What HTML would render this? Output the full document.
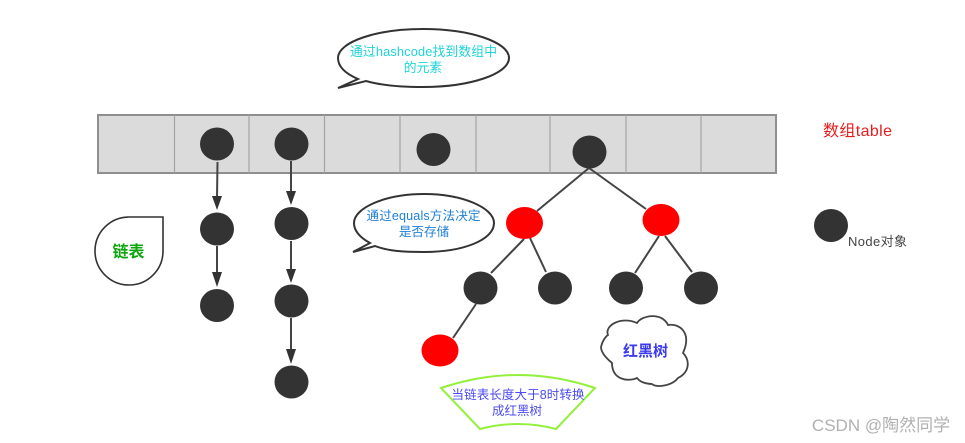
<!DOCTYPE html>
<html>
<head>
<meta charset="utf-8">
<style>
html,body{margin:0;padding:0;background:#fff;width:965px;height:443px;overflow:hidden}
svg{display:block}
text{font-family:"Liberation Sans","Noto Sans CJK SC",sans-serif;text-anchor:middle}
</style>
</head>
<body>
<svg width="965" height="443" viewBox="0 0 965 443" xmlns="http://www.w3.org/2000/svg">
<rect x="98" y="115" width="678" height="58" fill="#dbdbdb" stroke="#8f8f8f" stroke-width="2"/>
<g stroke="#a3a3a3" stroke-width="1.2">
<line x1="174.500" y1="115" x2="174.500" y2="173"/>
<line x1="249" y1="115" x2="249" y2="173"/>
<line x1="324.500" y1="115" x2="324.500" y2="173"/>
<line x1="400" y1="115" x2="400" y2="173"/>
<line x1="476" y1="115" x2="476" y2="173"/>
<line x1="550" y1="115" x2="550" y2="173"/>
<line x1="626" y1="115" x2="626" y2="173"/>
<line x1="701" y1="115" x2="701" y2="173"/>
</g>

<!-- connectors -->
<g stroke="#444" stroke-width="2" fill="none">
<line x1="217.500" y1="162" x2="217" y2="198"/>
<line x1="291" y1="161" x2="291" y2="192"/>
<line x1="217" y1="246" x2="217" y2="274"/>
<line x1="291" y1="241" x2="291" y2="271"/>
<line x1="291" y1="318" x2="291" y2="351"/>
<line x1="589" y1="168" x2="537" y2="211"/>
<line x1="589" y1="168" x2="646" y2="209"/>
<line x1="524" y1="239" x2="491" y2="273"/>
<line x1="530" y1="238" x2="546" y2="272"/>
<line x1="659" y1="236" x2="635" y2="273"/>
<line x1="665" y1="236" x2="692" y2="272"/>
<line x1="476" y1="304" x2="453" y2="338"/>
</g>
<g fill="#333">
<polygon points="212,196 222,196 217,210"/>
<polygon points="286,191 296,191 291,205"/>
<polygon points="212,272 222,272 217,287"/>
<polygon points="286,269 296,269 291,283"/>
<polygon points="286,349 296,349 291,364"/>
</g>

<!-- nodes -->
<g fill="#333">
<ellipse cx="217" cy="144" rx="17" ry="16.500"/>
<ellipse cx="291.500" cy="144" rx="17" ry="16.500"/>
<ellipse cx="433.500" cy="149.500" rx="17" ry="16.500"/>
<ellipse cx="589.500" cy="152" rx="17" ry="16.500"/>
<ellipse cx="217" cy="229" rx="17" ry="16.500"/>
<ellipse cx="291.500" cy="223.500" rx="17" ry="16.500"/>
<ellipse cx="217" cy="305.500" rx="17" ry="16.500"/>
<ellipse cx="291.500" cy="301" rx="17" ry="16.500"/>
<ellipse cx="291.500" cy="382" rx="17" ry="16.500"/>
<ellipse cx="480.500" cy="288" rx="17" ry="16.500"/>
<ellipse cx="555" cy="288" rx="17" ry="16.500"/>
<ellipse cx="626" cy="288" rx="17" ry="16.500"/>
<ellipse cx="701" cy="288" rx="17" ry="16.500"/>
<ellipse cx="831" cy="225.500" rx="17" ry="16.500"/>
</g>
<g fill="#f00">
<ellipse cx="524.500" cy="223" rx="18.500" ry="16"/>
<ellipse cx="661" cy="220" rx="18.500" ry="16"/>
<ellipse cx="440" cy="350.500" rx="18.500" ry="16"/>
</g>

<!-- bubbles -->
<path d="M358 79 C344 73 338 66 338 58 C338 42 376 29 423 29 C470 29 509 42 509 58 C509 74 470 87 423 87 C400 87 380 85 366 81 L338 88 Z" fill="#fff" stroke="#333" stroke-width="2"/>
<text x="423.500" y="56" font-size="12.800" fill="#1dd3d8" textLength="147" lengthAdjust="spacing">通过hashcode找到数组中</text>
<text x="423" y="72" font-size="12.800" fill="#1dd3d8">的元素</text>

<path d="M370 243 C359 237 354 230 354 223 C354 208 385 194 424 194 C463 194 494 208 494 223 C494 240 463 252 424 252 C403 252 388 251 375 246 L353 252 Z" fill="#fff" stroke="#333" stroke-width="2"/>
<text x="423.500" y="220" font-size="12.600" fill="#1f7fd6" textLength="114" lengthAdjust="spacing">通过equals方法决定</text>
<text x="424" y="236" font-size="12.600" fill="#1f7fd6">是否存储</text>

<!-- teardrop -->
<path d="M163 217 V251 A34 34 0 1 1 129 217 Z" fill="#fff" stroke="#333" stroke-width="1.600"/>
<text x="128.500" y="257" font-size="16" font-weight="bold" fill="#0da50d">链表</text>

<!-- cloud -->
<path d="M601 347 C602 342 605 337 608 335 C604 325 622 316 637 323 C642 315 662 312 668 325 C680 323 692 333 683 353 C690 360 690 372 678 378 C672 386 656 388 652 384 C646 384 640 382 637 378 C628 382 612 380 612 363 C606 358 601 352 601 347 Z" fill="#fff" stroke="#444" stroke-width="1.800"/>
<text x="645.500" y="356" font-size="15" font-weight="bold" fill="#3a3af0">红黑树</text>

<!-- banner -->
<path d="M441 388 Q518 362 595 388 L556 429 Q518 419 480 429 Z" fill="#fff" stroke="#93f03c" stroke-width="2"/>
<text x="518" y="399" font-size="12.500" fill="#4b4bf0" textLength="133" lengthAdjust="spacing">当链表长度大于8时转换</text>
<text x="517" y="415" font-size="12.500" fill="#4b4bf0">成红黑树</text>

<!-- labels -->
<text x="857.500" y="136" font-size="16" fill="#e81c1c" textLength="69" lengthAdjust="spacing">数组table</text>
<text x="877.500" y="246" font-size="13" fill="#444" textLength="59" lengthAdjust="spacing">Node对象</text>
<text x="881" y="431" font-size="17" fill="#b0b0b0">CSDN @陶然同学</text>
</svg>
</body>
</html>
